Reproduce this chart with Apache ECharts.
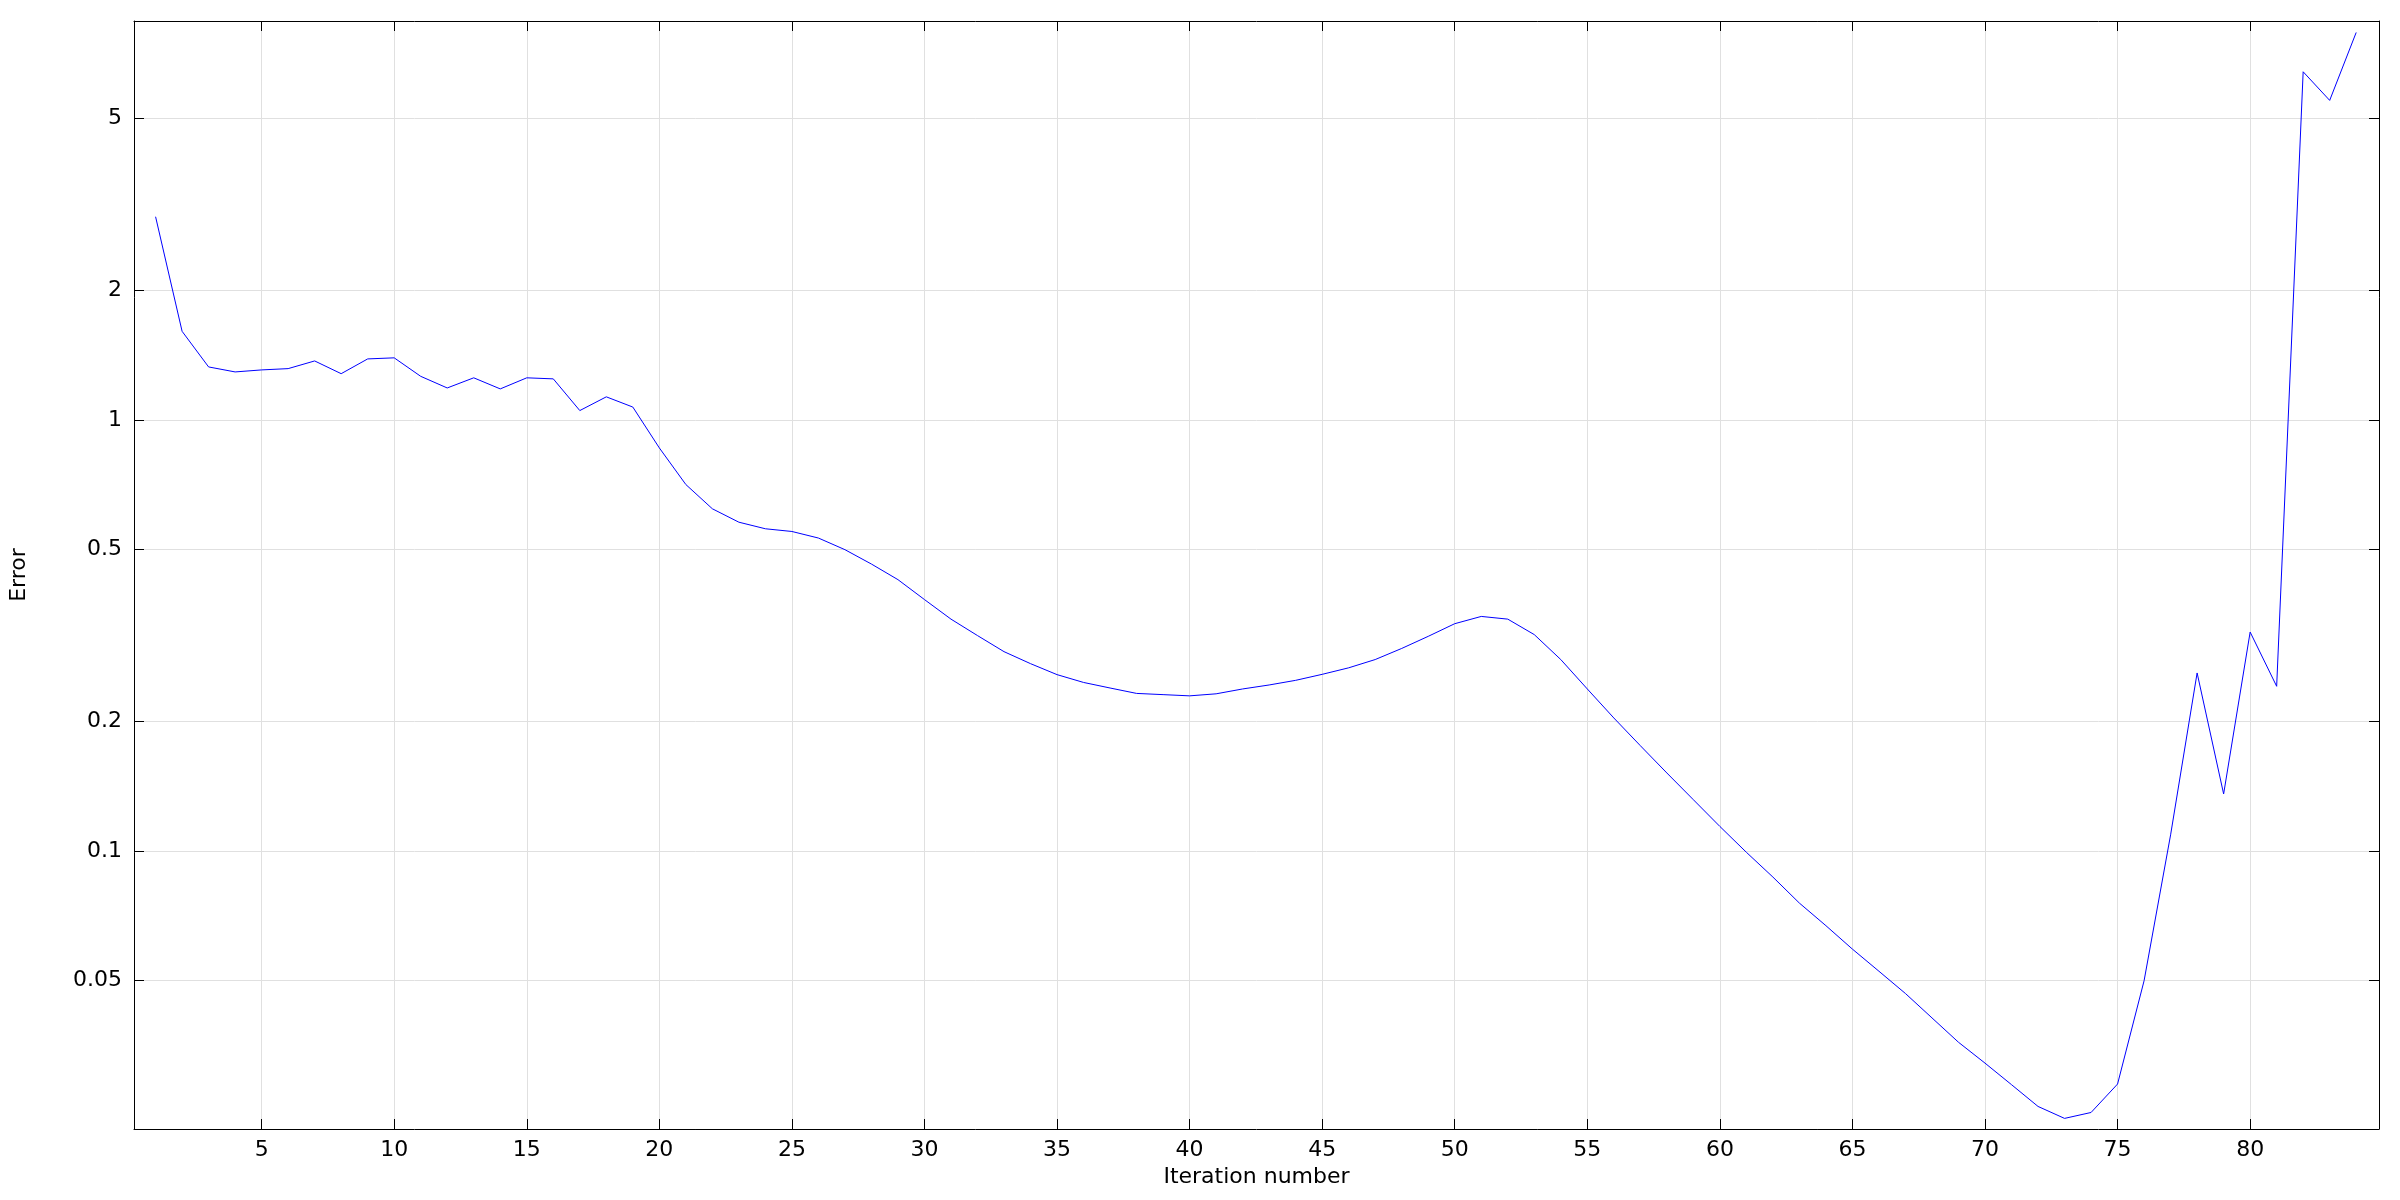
<!DOCTYPE html>
<html>
<head>
<meta charset="utf-8">
<script src="https://cdn.jsdelivr.net/npm/echarts@6/dist/echarts.min.js"></script>
<style>
html,body{margin:0;padding:0;background:#fff;}
#chart{width:2400px;height:1200px;}
</style>
</head>
<body>
<div id="chart"></div>
<script>
const iterations = [];
for (let i = 1; i <= 84; i++) iterations.push(i);
const errorValues = [
  2.96, 1.605, 1.327, 1.292, 1.306, 1.315, 1.370, 1.280, 1.385, 1.393,
  1.262, 1.186, 1.252, 1.180, 1.252, 1.245, 1.051, 1.131, 1.071, 0.861,
  0.708, 0.622, 0.579, 0.559, 0.551, 0.532, 0.500, 0.463, 0.426, 0.383,
  0.345, 0.316, 0.290, 0.272, 0.2565, 0.246, 0.2388, 0.232, 0.2305, 0.229,
  0.2315, 0.2376, 0.2427, 0.2488, 0.2569, 0.266, 0.278, 0.295, 0.3147, 0.3367,
  0.350, 0.345, 0.3176, 0.278, 0.2376, 0.2035, 0.1755, 0.1517, 0.1315, 0.114,
  0.0993, 0.0870, 0.0757, 0.0671, 0.0592, 0.0526, 0.0467, 0.0410, 0.0360, 0.0322,
  0.0287, 0.02555, 0.02397, 0.02474, 0.0288, 0.0500, 0.109, 0.2588, 0.1356, 0.322,
  0.241, 6.42, 5.51, 7.92
];
const xTicks = [5, 10, 15, 20, 25, 30, 35, 40, 45, 50, 55, 60, 65, 70, 75, 80];
const yTicks = [0.05, 0.1, 0.2, 0.5, 1, 2, 5];

const X_MIN = 0.186, X_MAX = 84.86;
const Y_MIN = 0.02265, Y_MAX = 8.42;
const FONT = 'DejaVu Sans';

const seriesData = iterations.map((x, i) => [x, errorValues[i]]);

const chart = echarts.init(document.getElementById('chart'), null, {renderer: 'canvas'});
const axisLine = {show: true, lineStyle: {color: '#000', width: 1}};
const gridLine = {show: true, lineStyle: {color: '#e0e0e0', width: 1}};

chart.setOption({
  animation: false,
  backgroundColor: '#ffffff',
  grid: {left: 131, right: 21, top: 21, bottom: 71, containLabel: false},
  xAxis: [
    {
      type: 'value', min: X_MIN, max: X_MAX, position: 'bottom',
      name: 'Iteration number', nameLocation: 'middle', nameGap: 33,
      nameTextStyle: {fontFamily: FONT, fontSize: 22, color: '#000'},
      axisLine: axisLine,
      axisTick: {show: true, inside: true, length: 10, customValues: xTicks, lineStyle: {color: '#000'}},
      axisLabel: {show: true, customValues: xTicks, margin: 10, fontFamily: FONT, fontSize: 22, color: '#000'},
      splitLine: gridLine
    },
    {
      type: 'value', min: X_MIN, max: X_MAX, position: 'top',
      axisLine: axisLine,
      axisTick: {show: true, inside: true, length: 10, customValues: xTicks, lineStyle: {color: '#000'}},
      axisLabel: {show: false},
      splitLine: {show: false}
    }
  ],
  yAxis: [
    {
      type: 'log', logBase: 10, min: Y_MIN, max: Y_MAX, position: 'left',
      name: 'Error', nameLocation: 'middle', nameGap: 104,
      nameTextStyle: {fontFamily: FONT, fontSize: 22, color: '#000'},
      axisLine: axisLine,
      axisTick: {show: true, inside: true, length: 10, customValues: yTicks, lineStyle: {color: '#000'}},
      axisLabel: {show: true, customValues: yTicks, margin: 12, fontFamily: FONT, fontSize: 22, color: '#000'},
      splitLine: gridLine,
      minorTick: {show: false}, minorSplitLine: {show: false}
    },
    {
      type: 'log', logBase: 10, min: Y_MIN, max: Y_MAX, position: 'right',
      axisLine: axisLine,
      axisTick: {show: true, inside: true, length: 10, customValues: yTicks, lineStyle: {color: '#000'}},
      axisLabel: {show: false},
      splitLine: {show: false}
    }
  ],
  series: [{
    type: 'line',
    xAxisIndex: 0, yAxisIndex: 0,
    data: seriesData,
    showSymbol: false,
    symbol: 'none',
    lineStyle: {color: '#0000ff', width: 1},
    itemStyle: {color: '#0000ff'},
    silent: true
  }]
});
</script>
</body>
</html>
